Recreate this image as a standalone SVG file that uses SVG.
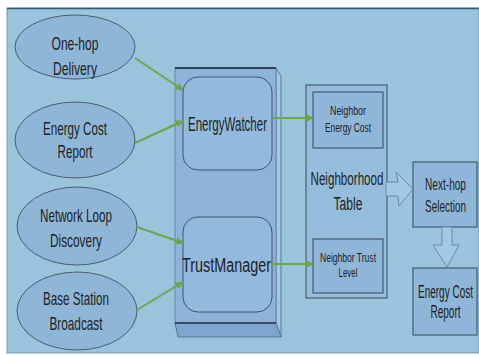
<svg xmlns="http://www.w3.org/2000/svg" width="479" height="355" viewBox="0 0 479 355">
<defs>
<style>
text{font-family:"Liberation Sans",Arial,sans-serif;fill:#1c1f24;text-anchor:middle}
.el{fill:#8fb6d7;stroke:#4c5d6e;stroke-width:1}
.mod{fill:#93badd;stroke:#3b5775;stroke-width:1}
.box{fill:#8fb6d8;stroke:#30495f;stroke-width:1}
.conn{stroke:#6ea54f;stroke-width:2;fill:none;marker-end:url(#ah)}
.blk{fill:#a3c8e2;stroke:#6f8ba3;stroke-width:1}
.f19{font-size:19px}
.f20{font-size:20px}
.f18{font-size:18px}
.f17{font-size:17px}
.f13{font-size:13px}
</style>
<marker id="ah" viewBox="0 0 10 10" refX="9" refY="5" markerWidth="4" markerHeight="4" orient="auto" markerUnits="strokeWidth">
<path d="M0,0 L10,5 L0,10 z" fill="#6ea54f"/>
</marker>
</defs>
<rect x="0" y="0" width="479" height="355" fill="#ffffff"/>
<rect x="7" y="8" width="472" height="345" fill="#9ac3dc" stroke="#7d99ad" stroke-width="1"/>
<line x1="7" y1="8.5" x2="479" y2="8.5" stroke="#3a5870" stroke-width="1.5"/>

<g id="one-hop-delivery">
<ellipse class="el" cx="75" cy="47" rx="60" ry="32"/>
<text class="f19" x="75" y="50" textLength="47" lengthAdjust="spacingAndGlyphs">One-hop</text>
<text class="f19" x="75" y="75" textLength="44" lengthAdjust="spacingAndGlyphs">Delivery</text>
</g>
<g id="energy-cost-report-in">
<ellipse class="el" cx="75" cy="140" rx="60" ry="38"/>
<text class="f19" x="75" y="135" textLength="64" lengthAdjust="spacingAndGlyphs">Energy Cost</text>
<text class="f19" x="75" y="158" textLength="35" lengthAdjust="spacingAndGlyphs">Report</text>
</g>
<g id="network-loop-discovery">
<ellipse class="el" cx="77" cy="226" rx="60" ry="39"/>
<text class="f19" x="76" y="222" textLength="72" lengthAdjust="spacingAndGlyphs">Network Loop</text>
<text class="f19" x="76" y="247" textLength="52" lengthAdjust="spacingAndGlyphs">Discovery</text>
</g>
<g id="base-station-broadcast">
<ellipse class="el" cx="77" cy="311" rx="60" ry="39"/>
<text class="f19" x="76" y="305" textLength="66" lengthAdjust="spacingAndGlyphs">Base Station</text>
<text class="f19" x="76" y="330" textLength="53" lengthAdjust="spacingAndGlyphs">Broadcast</text>
</g>

<g id="module-box">
<polygon points="276,68 281,76 281,337 276,323" fill="#a6c6e6" stroke="#5b7894" stroke-width="1"/>
<polygon points="175,323 276,323 281,337 178,337" fill="#7fa5cf" stroke="#5b7894" stroke-width="1"/>
<rect x="175" y="68" width="101" height="255" fill="#8fb3d8" stroke="#6d87a0" stroke-width="1"/>
<line x1="175" y1="68" x2="276" y2="68" stroke="#16202c" stroke-width="1.5"/>
<line x1="175" y1="323" x2="276" y2="323" stroke="#1f3550" stroke-width="1.5"/>
</g>
<g id="energywatcher">
<rect class="mod" x="183" y="77" width="89" height="93" rx="15"/>
<text class="f20" x="227.5" y="131" textLength="79" lengthAdjust="spacingAndGlyphs">EnergyWatcher</text>
</g>
<g id="trustmanager">
<rect class="mod" x="183" y="217" width="89" height="95" rx="15"/>
<text class="f20" x="226.5" y="272" textLength="89" lengthAdjust="spacingAndGlyphs">TrustManager</text>
</g>

<g id="neighborhood-table">
<rect x="306" y="85" width="81" height="213" fill="#95bddb" stroke="#3a4a5a" stroke-width="1"/>
<text class="f18" x="347" y="185" textLength="73" lengthAdjust="spacingAndGlyphs">Neighborhood</text>
<text class="f18" x="348" y="210" textLength="29" lengthAdjust="spacingAndGlyphs">Table</text>
</g>
<g id="neighbor-energy-cost">
<rect class="box" x="313" y="92" width="70" height="56"/>
<text class="f13" x="348" y="115" textLength="36" lengthAdjust="spacingAndGlyphs">Neighbor</text>
<text class="f13" x="348" y="132" textLength="46" lengthAdjust="spacingAndGlyphs">Energy Cost</text>
</g>
<g id="neighbor-trust-level">
<rect class="box" x="313" y="239" width="70" height="54"/>
<text class="f13" x="348" y="262" textLength="56" lengthAdjust="spacingAndGlyphs">Neighbor Trust</text>
<text class="f13" x="348" y="277" textLength="19" lengthAdjust="spacingAndGlyphs">Level</text>
</g>
<g id="next-hop-selection">
<rect class="box" x="413" y="162" width="64" height="65"/>
<text class="f17" transform="translate(445.5,190) scale(0.594,1)">Next-hop</text>
<text class="f17" transform="translate(445.5,212) scale(0.587,1)">Selection</text>
</g>
<g id="energy-cost-report-out">
<rect class="box" x="413" y="268" width="64" height="67"/>
<text class="f18" transform="translate(445.5,298) scale(0.556,1)">Energy Cost</text>
<text class="f18" transform="translate(445.5,318) scale(0.556,1)">Report</text>
</g>

<g id="connectors">
<line class="conn" x1="135" y1="58" x2="183" y2="90"/>
<line class="conn" x1="135" y1="143" x2="183" y2="121"/>
<line class="conn" x1="137" y1="227" x2="183" y2="243"/>
<line class="conn" x1="137" y1="310" x2="183" y2="282"/>
<line class="conn" x1="273" y1="118" x2="313" y2="118"/>
<line class="conn" x1="272" y1="264" x2="313" y2="264"/>
<polygon class="blk" points="386,182 398,182 396,172 413,189 399,206 398,196 386,196"/>
<polygon class="blk" points="442,227 452,227 452,245 459,245 447,267 433,245 442,245"/>
</g>
</svg>
